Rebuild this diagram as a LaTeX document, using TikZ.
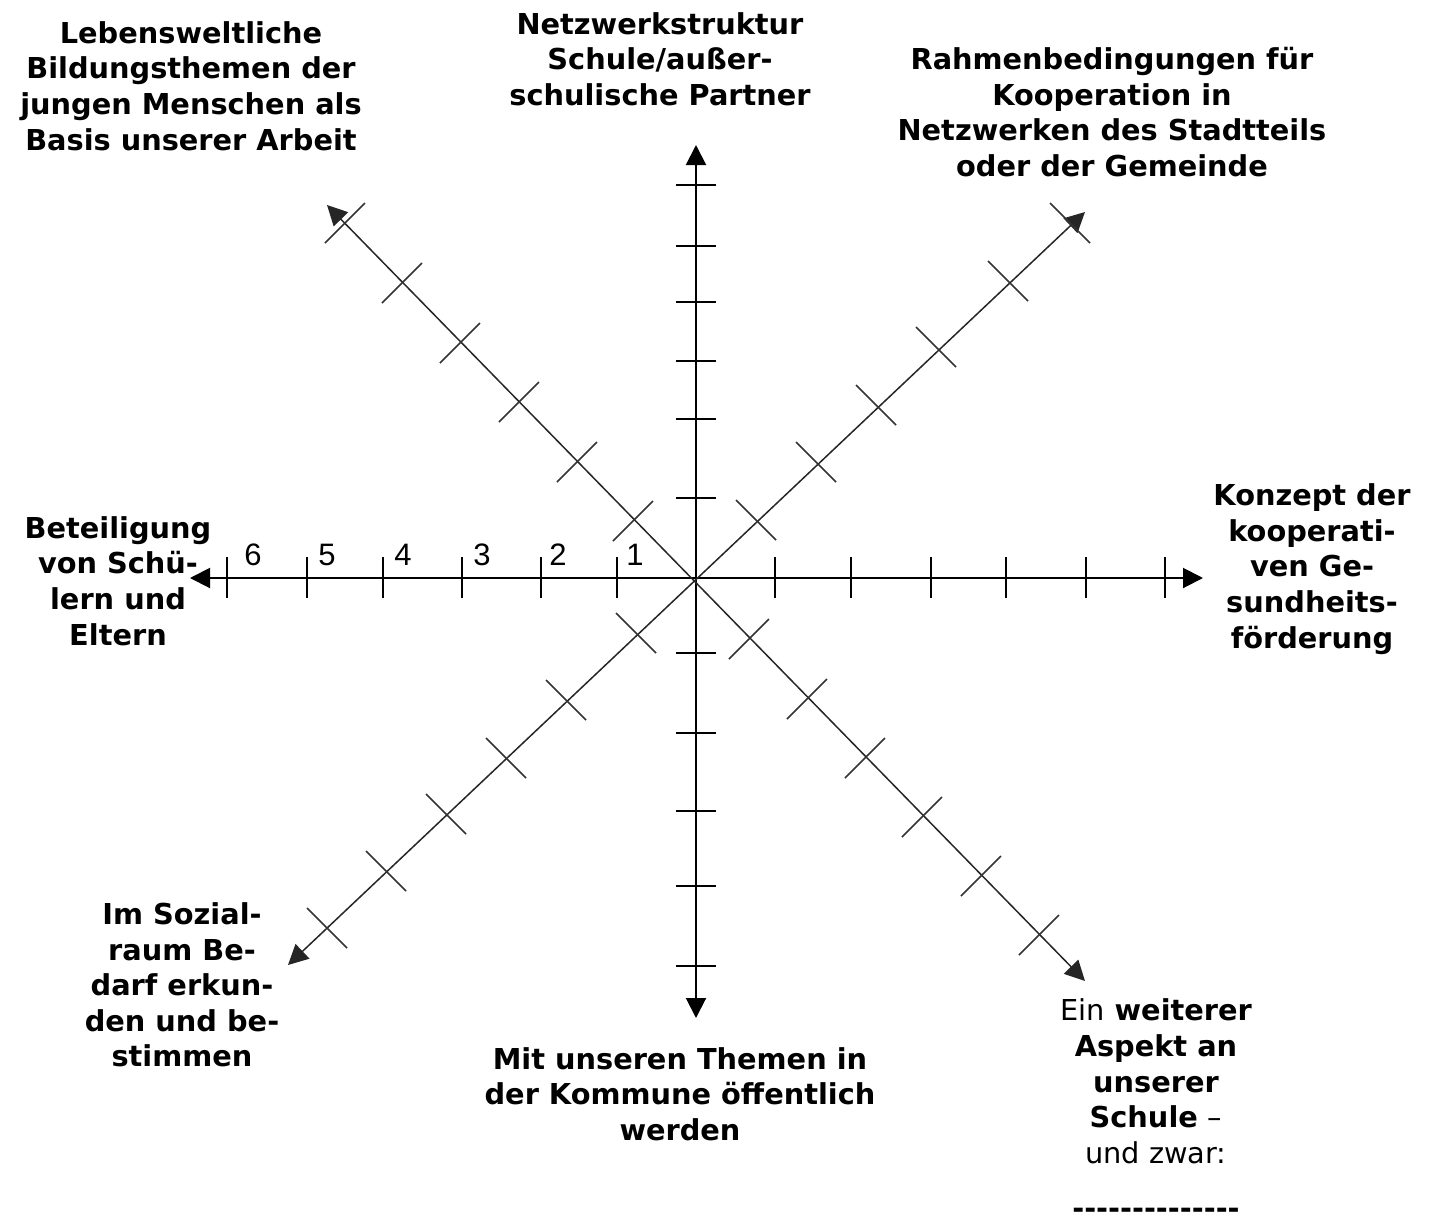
\documentclass[tikz,border=0pt]{standalone}
\usepackage{fontspec}
\setmainfont{DejaVu Sans}
\newfontfamily\numfont{Liberation Sans}
\usetikzlibrary{arrows.meta}

\newcommand{\dashrow}{-\kern0pt-\kern0pt-\kern0pt-\kern0pt-\kern0pt-\kern0pt-\kern0pt-\kern0pt-\kern0pt-\kern0pt-\kern0pt-\kern0pt-\kern0pt-}

\begin{document}
\begin{tikzpicture}[x=0.5pt, y=-0.5pt,
  axis/.style={line width=1pt, {Triangle[length=10pt,width=10pt]}-{Triangle[length=10pt,width=10pt]}},
  diag/.style={axis, line width=0.75pt, draw=black!85},
  tick/.style={line width=1pt},
  dtick/.style={line width=0.75pt, draw=black!80},
  lab/.style={align=center, inner sep=0pt, font=\fontsize{14.4}{17.8}\selectfont\bfseries},
  num/.style={inner sep=0pt, font=\numfont\fontsize{15.5}{17}\selectfont}
]
\useasboundingbox (0,0) rectangle (1432,1227);

% axis ends
\coordinate (O) at (694,578);
\coordinate (west) at (190,578);
\coordinate (east) at (1203,578);
\coordinate (north) at (696,145);
\coordinate (south) at (696,1018);
\coordinate (nw) at (327,205);
\coordinate (se) at (1085,981);
\coordinate (ne) at (1085,212);
\coordinate (sw) at (288,965);

\draw[axis] (west) -- (east);
\draw[axis] (north) -- (south);
\draw[diag] (nw) -- (se);
\draw[diag] (ne) -- (sw);

% ticks
\foreach \x in {227,307,383,462,541,617,775,851,931,1006,1086,1165}
  \draw[tick] (\x,557) -- (\x,598);
\foreach \y in {185,246,302,361,419,498,653,733,811,886,966}
  \draw[tick] (676,\y) -- (716,\y);
\foreach \x/\y in {345/223,402/283,460/343,519/402,577/462,633/521,
                   749/639,807/699,865/758,922/817,981/876,1039/935}
  \draw[dtick] (\x-20,\y+20) -- (\x+20,\y-20);
\foreach \x/\y in {756/520,816/462,876/405,936/347,1008/281,1070/223,
                   636/633,566/700,506/758,446/814,386/871,327/928}
  \draw[dtick] (\x-20,\y-20) -- (\x+20,\y+20);

% scale numbers
\foreach \n/\x in {1/635,2/558,3/482,4/403,5/327,6/253}
  \node[num] (n\n) at (\x,555) {\n};

% labels
\node[lab] (lebenswelt) at (191,86) {Lebensweltliche\\Bildungsthemen der\\jungen Menschen als\\Basis unserer Arbeit};
\node[lab] (netzwerk) at (660,59) {Netzwerkstruktur\\Schule/außer-\\schulische Partner};
\node[lab] (rahmen) at (1112,112) {Rahmenbedingungen für\\Kooperation in\\Netzwerken des Stadtteils\\oder der Gemeinde};
\node[lab] (konzept) at (1312,569) {Konzept der\\kooperati-\\ven Ge-\\sundheits-\\förderung};
\node[lab] (beteiligung) at (118,581) {Beteiligung\\von Schü-\\lern und\\Eltern};
\node[lab] (sozialraum) at (182,985) {Im Sozial-\\raum Be-\\darf erkun-\\den und be-\\stimmen};
\node[lab] (kommune) at (680,1094) {Mit unseren Themen in\\der Kommune öffentlich\\werden};
\node[lab] (aspekt) at (1156,1109) {{\mdseries Ein} weiterer\\Aspekt an\\unserer\\Schule {\mdseries –}\\{\mdseries und zwar:}\\[10pt]\dashrow};
\end{tikzpicture}
\end{document}
